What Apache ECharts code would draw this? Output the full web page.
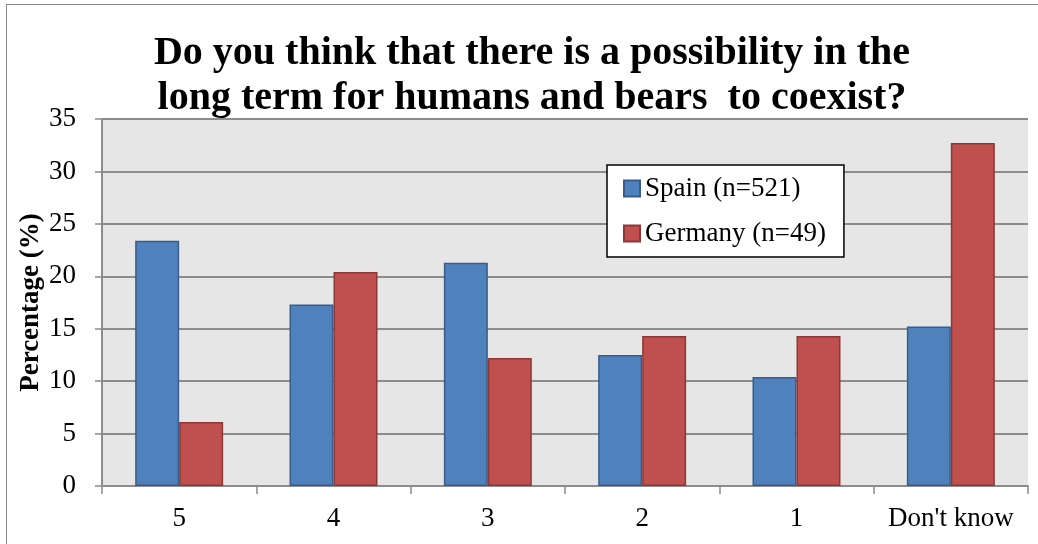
<!DOCTYPE html>
<html>
<head>
<meta charset="utf-8">
<script src="https://cdn.jsdelivr.net/npm/echarts@6/dist/echarts.min.js"></script>
<style>
html,body{margin:0;padding:0;background:#fff;}
#frame{position:absolute;left:6px;top:4px;width:1040px;height:560px;border:1.5px solid #8a8a8a;box-sizing:border-box;}
#chart{position:absolute;left:0;top:0;width:1038px;height:544px;}
</style>
</head>
<body>
<div id="frame"></div>
<div id="chart"></div>
<script>
const categories = ['5', '4', '3', '2', '1', "Don't know"];
const spain = [23.4, 17.3, 21.3, 12.5, 10.4, 15.2];
const germany = [6.1, 20.4, 12.2, 14.3, 14.3, 32.7];
const seriesNames = ['Spain (n=521)', 'Germany (n=49)'];
const titleText = 'Do you think that there is a possibility in the\nlong term for humans and bears  to coexist?';
const yAxisName = 'Percentage (%)';

const serif = '"Liberation Serif","DejaVu Serif",serif';
const chart = echarts.init(document.getElementById('chart'), null, {renderer: 'canvas'});
chart.setOption({
  animation: false,
  backgroundColor: 'transparent',
  title: {
    text: titleText,
    left: 527,
    textAlign: 'center',
    top: 26,
    textStyle: {fontFamily: serif, fontWeight: 'bold', fontSize: 40, lineHeight: 45, color: '#000'}
  },
  legend: {
    orient: 'vertical',
    left: 607,
    top: 165,
    padding: [10, 18, 10, 16],
    itemGap: 18,
    itemWidth: 16,
    itemHeight: 16,
    icon: 'rect',
    backgroundColor: '#fff',
    borderColor: '#000',
    borderWidth: 1.5,
    textStyle: {fontFamily: serif, fontSize: 27, color: '#000'},
    data: seriesNames
  },
  grid: {
    left: 102, right: 10, top: 119, bottom: 58,
    show: true, backgroundColor: '#e6e6e6', borderWidth: 0
  },
  xAxis: {
    type: 'category',
    data: categories,
    axisLine: {show: true, lineStyle: {color: '#8c8c8c', width: 2}},
    axisTick: {show: true, interval: 0, alignWithLabel: false, length: 8, lineStyle: {color: '#8c8c8c', width: 1.5}},
    axisLabel: {interval: 0, hideOverlap: false, fontFamily: serif, fontSize: 27, color: '#000', margin: 19}
  },
  yAxis: {
    type: 'value',
    min: 0, max: 35, interval: 5,
    name: yAxisName,
    nameLocation: 'middle',
    nameGap: 57,
    nameMoveOverlap: false,
    nameTextStyle: {fontFamily: serif, fontWeight: 'bold', fontSize: 27, color: '#000'},
    axisLine: {show: true, lineStyle: {color: '#8c8c8c', width: 2}},
    axisTick: {show: true, length: 7, lineStyle: {color: '#8c8c8c', width: 1.5}},
    axisLabel: {fontFamily: serif, fontSize: 27, color: '#000', margin: 26},
    splitLine: {show: true, lineStyle: {color: '#8c8c8c', width: 2}}
  },
  series: [
    {
      name: seriesNames[0], type: 'bar', data: spain,
      barGap: '0%', barCategoryGap: '43%',
      itemStyle: {color: '#4f81bd', borderColor: '#385d8a', borderWidth: 1.5}
    },
    {
      name: seriesNames[1], type: 'bar', data: germany,
      barGap: '0%', barCategoryGap: '43%',
      itemStyle: {color: '#c0504d', borderColor: '#8c3836', borderWidth: 1.5}
    }
  ]
});
</script>
</body>
</html>
